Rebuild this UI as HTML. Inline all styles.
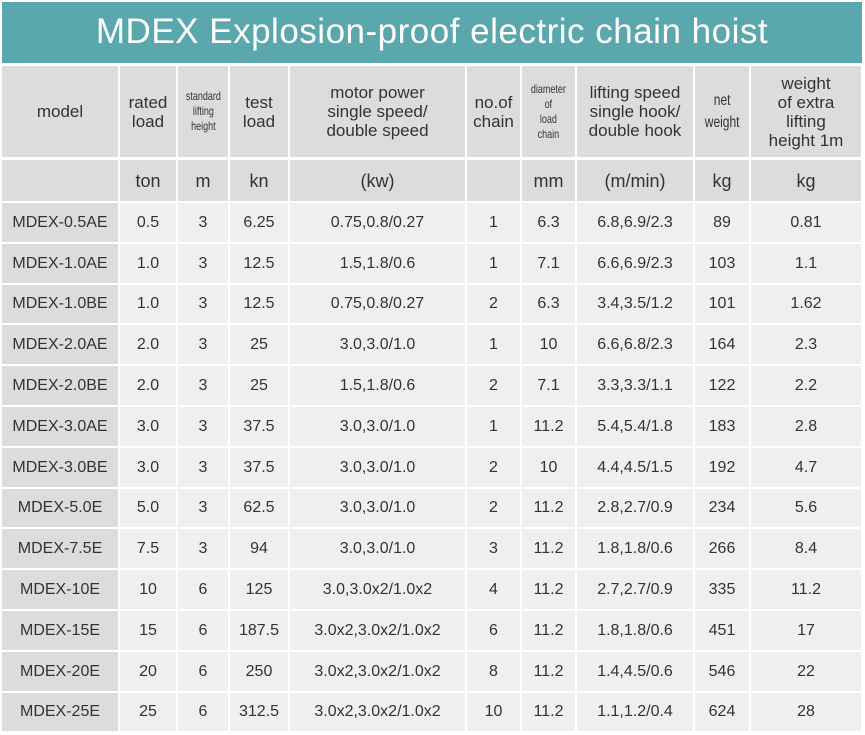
<!DOCTYPE html>
<html><head><meta charset="utf-8">
<style>
body{margin:0;width:865px;height:735px;background:#fff;overflow:hidden;font-family:"Liberation Sans",sans-serif;color:#333;}
#t{position:absolute;left:2px;top:2px;width:860px;height:61px;background:#5aa8ae;color:#fff;font-size:35px;text-align:center;line-height:60px;letter-spacing:0.5px;}
.c{position:absolute;display:flex;align-items:center;justify-content:center;text-align:center;background:#efefef;font-size:16px;white-space:nowrap;}
.h{background:#dcdcdd;}
.m{background:#dcdcdd;}
.sm{font-size:12px;line-height:15px;transform:scaleX(0.75);}
</style></head><body>
<div id="t">MDEX Explosion-proof electric chain hoist</div>
<div id="tbl"></div>
<script>
const colX=[2,120,178,230,290,467,522,577,695,751,863];
const heads=["model","rated<br>load","<span class='sm'>standard<br>lifting<br>height</span>","test<br>load","motor power<br>single speed/<br>double speed","no.of<br>chain","<span class='sm'>diameter<br>of<br>load<br>chain</span>","lifting speed<br>single hook/<br>double hook","<span class='sm' style='font-size:16px;line-height:22px'>net<br>weight</span>","weight<br>of extra<br>lifting<br>height 1m"];
const units=["","ton","m","kn","(kw)","","mm","(m/min)","kg","kg"];
const models=["MDEX-0.5AE","MDEX-1.0AE","MDEX-1.0BE","MDEX-2.0AE","MDEX-2.0BE","MDEX-3.0AE","MDEX-3.0BE","MDEX-5.0E","MDEX-7.5E","MDEX-10E","MDEX-15E","MDEX-20E","MDEX-25E"];
const rated=["0.5","1.0","1.0","2.0","2.0","3.0","3.0","5.0","7.5","10","15","20","25"];
const liftH=["3","3","3","3","3","3","3","3","3","6","6","6","6"];
const testLoad=["6.25","12.5","12.5","25","25","37.5","37.5","62.5","94","125","187.5","250","312.5"];
const power=["0.75,0.8/0.27","1.5,1.8/0.6","0.75,0.8/0.27","3.0,3.0/1.0","1.5,1.8/0.6","3.0,3.0/1.0","3.0,3.0/1.0","3.0,3.0/1.0","3.0,3.0/1.0","3.0,3.0x2/1.0x2","3.0x2,3.0x2/1.0x2","3.0x2,3.0x2/1.0x2","3.0x2,3.0x2/1.0x2"];
const chains=["1","1","2","1","2","1","2","2","3","4","6","8","10"];
const diam=["6.3","7.1","6.3","10","7.1","11.2","10","11.2","11.2","11.2","11.2","11.2","11.2"];
const speed=["6.8,6.9/2.3","6.6,6.9/2.3","3.4,3.5/1.2","6.6,6.8/2.3","3.3,3.3/1.1","5.4,5.4/1.8","4.4,4.5/1.5","2.8,2.7/0.9","1.8,1.8/0.6","2.7,2.7/0.9","1.8,1.8/0.6","1.4,4.5/0.6","1.1,1.2/0.4"];
const netW=["89","103","101","164","122","183","192","234","266","335","451","546","624"];
const extraW=["0.81","1.1","1.62","2.3","2.2","2.8","4.7","5.6","8.4","11.2","17","22","28"];
const cols=[models,rated,liftH,testLoad,power,chains,diam,speed,netW,extraW];
const tbl=document.getElementById('tbl');
function cell(x,y,w,h,html,cls,fs){
  const d=document.createElement('div');
  d.className='c '+cls;
  d.style.left=x+'px';d.style.top=y+'px';d.style.width=w+'px';d.style.height=h+'px';
  if(fs)d.style.cssText+=';font-size:'+fs+'px;line-height:'+(fs+2)+'px';
  d.innerHTML=html;
  tbl.appendChild(d);
  return d;
}
for(let i=0;i<10;i++){
  const x=colX[i],w=colX[i+1]-x-2;
  const a=cell(x,66,w,91,heads[i],'h',17);
  
  
  const b=cell(x,160,w,41,units[i],'h',18);
  
  
  for(let r=0;r<models.length;r++){
    const y=Math.round(203+r*40.8);
    const h=Math.round(203+(r+1)*40.8)-y-2;
    const c=cell(x,y,w,h,cols[i][r],i===0?'m':'',16);
    
    
  }
}
</script>
</body></html>
